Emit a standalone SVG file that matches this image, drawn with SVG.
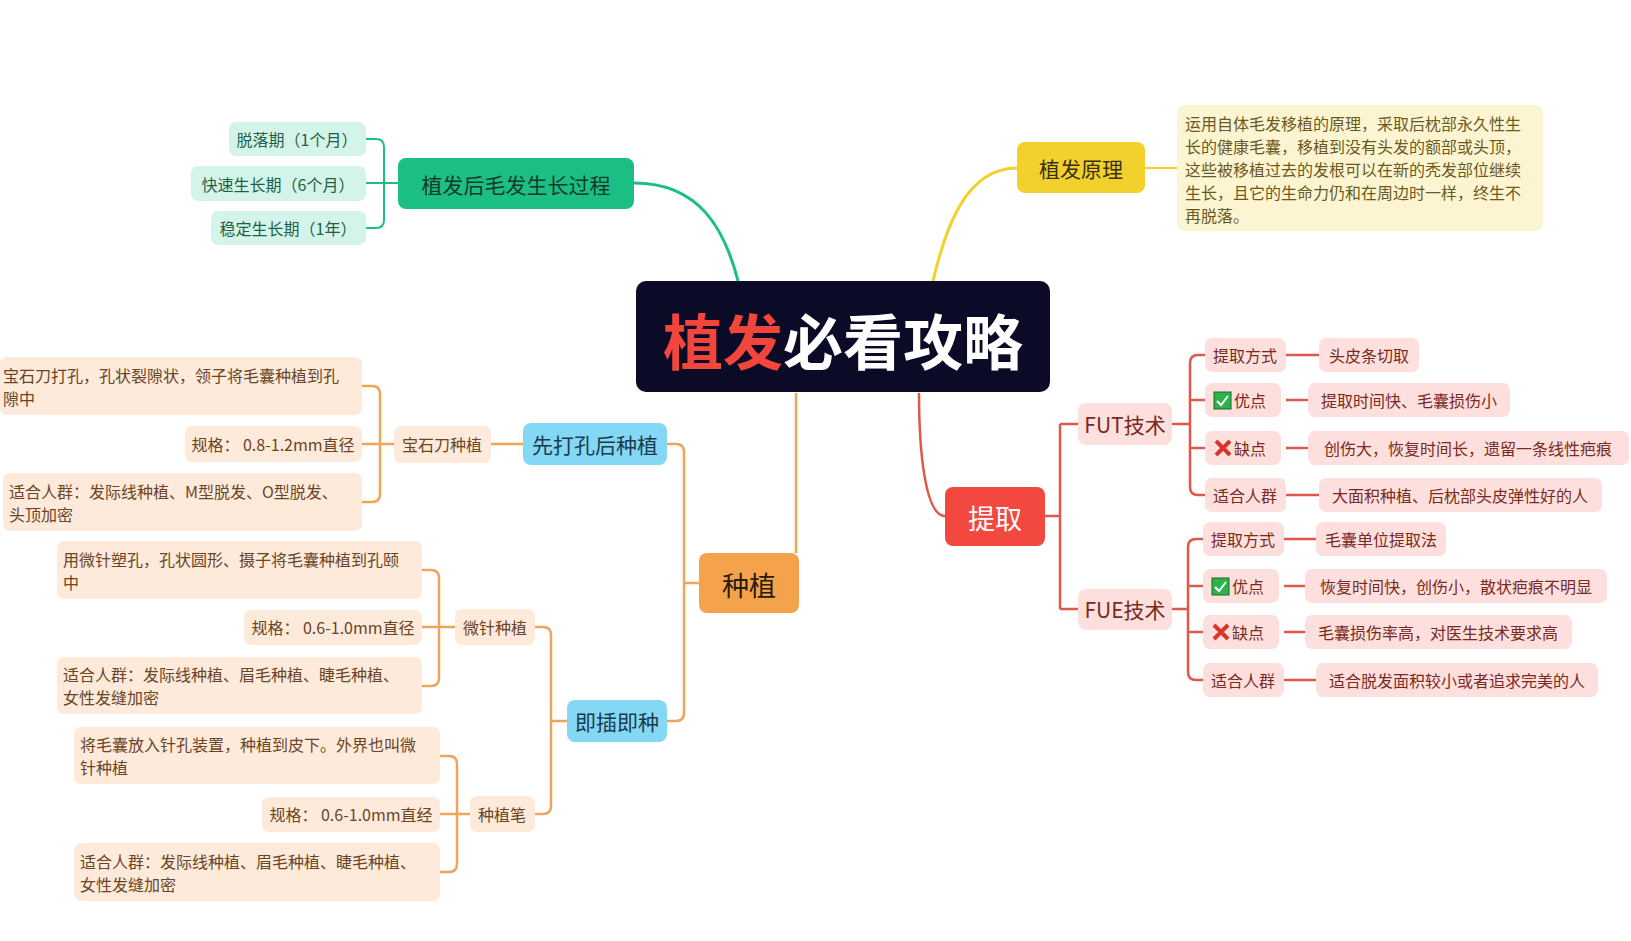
<svg xmlns="http://www.w3.org/2000/svg" width="1631" height="941" viewBox="0 0 1631 941">
<style>
text{font-family:"Noto Sans CJK SC","Noto Sans",sans-serif;dominant-baseline:central}
.lf{font-size:16px}
.g{fill:#d5f4e9}.gt{fill:#1d5f47}
.y{fill:#fdf5d2}.yt{fill:#6b5a1c}
.p{fill:#fde0dd}.pt{fill:#7a2a22}
.o{fill:#fdeadb}.ot{fill:#6b4524}
.b{fill:#84d8f5}.bt{fill:#1b3b4c}
.cg{stroke:#1bbf83;stroke-width:3;fill:none}
.cy{stroke:#f2d12d;stroke-width:3;fill:none}
.cr{stroke:#e0574c;stroke-width:2.5;fill:none}
.co{stroke:#eea55a;stroke-width:2.5;fill:none}
</style>
<rect width="1631" height="941" fill="#fff"/>
<g id="connectors">
<path class="cg" d="M738 281 C725 230 700 183 634 183"/>
<path class="cy" d="M933 281 C945 230 965 168 1017 168"/>
<path class="cr" d="M919 393 C919 450 925 516 945 516"/>
<path class="co" d="M796 393 L796 553"/>
<path class="cg" style="stroke-width:2" d="M398 183 H384 M366 139 H376 Q384 139 384 147 V220 Q384 228 376 228 H366 M366 183 H384"/>
<path class="cy" style="stroke-width:2" d="M1145 168 H1177"/>
<path class="cr" d="M1045 516 H1060 M1060 424 V609 M1060 424 H1078 M1060 609 H1078"/>
<path class="cr" d="M1172 424 H1190 M1205 355 H1198 Q1190 355 1190 363 V487 Q1190 495 1198 495 H1205 M1190 400 H1205 M1190 448 H1205 M1286 355 H1319 M1286 400 H1308 M1286 448 H1308 M1286 495 H1319"/>
<path class="cr" d="M1172 609 H1188 M1203 539 H1196 Q1188 539 1188 547 V672 Q1188 680 1196 680 H1203 M1188 586 H1203 M1188 632 H1203 M1284 539 H1316 M1284 586 H1305 M1284 632 H1305 M1284 680 H1316"/>
<path class="co" d="M699 583 H684 M667 444 H676 Q684 444 684 452 V713 Q684 721 676 721 H667"/>
<path class="co" d="M523 444 H491 M394 444 H380 M362 386 H372 Q380 386 380 394 V494 Q380 502 372 502 H362 M362 444 H380"/>
<path class="co" d="M567 721 H551 M535 627 H543 Q551 627 551 635 V806 Q551 814 543 814 H535"/>
<path class="co" d="M455 627 H439 M422 570 H431 Q439 570 439 578 V678 Q439 686 431 686 H422 M422 627 H439"/>
<path class="co" d="M470 814 H457 M440 756 H449 Q457 756 457 764 V864 Q457 872 449 872 H440 M440 814 H457"/>
</g>
<g id="center">
<rect x="636" y="281" width="414" height="111" rx="10" fill="#0b0b28"/>
<text x="843" y="338" text-anchor="middle" font-size="60" font-weight="bold"><tspan fill="#f2453c">植发</tspan><tspan fill="#fff">必看攻略</tspan></text>
</g>
<g id="n-growth">
<rect x="398" y="158" width="236" height="51" rx="8" fill="#1bbf83"/>
<text x="516" y="184" text-anchor="middle" font-size="21" fill="#153a2c">植发后毛发生长过程</text>
</g>
<g id="n-g1"><rect class="g" x="229" y="122" width="137" height="34" rx="7"/><text class="lf gt" x="297" y="139" text-anchor="middle">脱落期（1个月）</text></g>
<g id="n-g2"><rect class="g" x="191" y="166" width="175" height="35" rx="7"/><text class="lf gt" x="278" y="184" text-anchor="middle">快速生长期（6个月）</text></g>
<g id="n-g3"><rect class="g" x="211" y="211" width="155" height="34" rx="7"/><text class="lf gt" x="288" y="228" text-anchor="middle">稳定生长期（1年）</text></g>
<g id="n-principle">
<rect x="1017" y="142" width="128" height="51" rx="8" fill="#f2d12d"/>
<text x="1081" y="168" text-anchor="middle" font-size="21" fill="#3a3110">植发原理</text>
</g>
<g id="n-principle-text">
<rect class="y" x="1177" y="105" width="366" height="126" rx="7"/>
<text class="lf yt" x="1185" y="0"><tspan x="1185" y="123">运用自体毛发移植的原理，采取后枕部永久性生</tspan><tspan x="1185" y="146">长的健康毛囊，移植到没有头发的额部或头顶，</tspan><tspan x="1185" y="169">这些被移植过去的发根可以在新的秃发部位继续</tspan><tspan x="1185" y="192">生长，且它的生命力仍和在周边时一样，终生不</tspan><tspan x="1185" y="215">再脱落。</tspan></text>
</g>
<g id="n-extract">
<rect x="945" y="487" width="100" height="59" rx="8" fill="#f2483f"/>
<text x="995" y="517" text-anchor="middle" font-size="27" fill="#fff">提取</text>
</g>
<g id="n-fut"><rect class="p" x="1078" y="403" width="94" height="42" rx="8"/><text class="pt" x="1125" y="424" text-anchor="middle" font-size="21">FUT技术</text></g>
<g id="n-fue"><rect class="p" x="1078" y="589" width="94" height="41" rx="8"/><text class="pt" x="1125" y="609" text-anchor="middle" font-size="21">FUE技术</text></g>
<g id="n-fut1"><rect class="p" x="1205" y="338" width="81" height="34" rx="7"/><text class="lf pt" x="1245" y="355" text-anchor="middle">提取方式</text></g>
<g id="n-fut1v"><rect class="p" x="1319" y="338" width="100" height="34" rx="7"/><text class="lf pt" x="1369" y="355" text-anchor="middle">头皮条切取</text></g>
<g id="n-fut2"><rect class="p" x="1205" y="383" width="76" height="34" rx="7"/><rect x="1214" y="392" width="17" height="17" fill="#2db34a" stroke="#1a6a2b"/><path d="M1217 401 l4 4 l7 -9" stroke="#fff" stroke-width="2" fill="none"/><text class="lf pt" x="1234" y="400">优点</text></g>
<g id="n-fut2v"><rect class="p" x="1308" y="383" width="202" height="34" rx="7"/><text class="lf pt" x="1409" y="400" text-anchor="middle">提取时间快、毛囊损伤小</text></g>
<g id="n-fut3"><rect class="p" x="1205" y="431" width="76" height="34" rx="7"/><path d="M1216 441 l14 14 M1230 441 l-14 14" stroke="#d9362b" stroke-width="4"/><text class="lf pt" x="1234" y="448">缺点</text></g>
<g id="n-fut3v"><rect class="p" x="1308" y="431" width="321" height="34" rx="7"/><text class="lf pt" x="1468" y="448" text-anchor="middle">创伤大，恢复时间长，遗留一条线性疤痕</text></g>
<g id="n-fut4"><rect class="p" x="1205" y="478" width="81" height="34" rx="7"/><text class="lf pt" x="1245" y="495" text-anchor="middle">适合人群</text></g>
<g id="n-fut4v"><rect class="p" x="1319" y="478" width="283" height="34" rx="7"/><text class="lf pt" x="1460" y="495" text-anchor="middle">大面积种植、后枕部头皮弹性好的人</text></g>
<g id="n-fue1"><rect class="p" x="1203" y="522" width="81" height="34" rx="7"/><text class="lf pt" x="1243" y="539" text-anchor="middle">提取方式</text></g>
<g id="n-fue1v"><rect class="p" x="1316" y="522" width="130" height="34" rx="7"/><text class="lf pt" x="1381" y="539" text-anchor="middle">毛囊单位提取法</text></g>
<g id="n-fue2"><rect class="p" x="1203" y="569" width="76" height="34" rx="7"/><rect x="1212" y="578" width="17" height="17" fill="#2db34a" stroke="#1a6a2b"/><path d="M1215 587 l4 4 l7 -9" stroke="#fff" stroke-width="2" fill="none"/><text class="lf pt" x="1232" y="586">优点</text></g>
<g id="n-fue2v"><rect class="p" x="1305" y="569" width="302" height="34" rx="7"/><text class="lf pt" x="1456" y="586" text-anchor="middle">恢复时间快，创伤小，散状疤痕不明显</text></g>
<g id="n-fue3"><rect class="p" x="1203" y="615" width="76" height="34" rx="7"/><path d="M1214 625 l14 14 M1228 625 l-14 14" stroke="#d9362b" stroke-width="4"/><text class="lf pt" x="1232" y="632">缺点</text></g>
<g id="n-fue3v"><rect class="p" x="1305" y="615" width="267" height="34" rx="7"/><text class="lf pt" x="1438" y="632" text-anchor="middle">毛囊损伤率高，对医生技术要求高</text></g>
<g id="n-fue4"><rect class="p" x="1203" y="663" width="81" height="34" rx="7"/><text class="lf pt" x="1243" y="680" text-anchor="middle">适合人群</text></g>
<g id="n-fue4v"><rect class="p" x="1316" y="663" width="282" height="34" rx="7"/><text class="lf pt" x="1457" y="680" text-anchor="middle">适合脱发面积较小或者追求完美的人</text></g>
<g id="n-plant">
<rect x="699" y="553" width="100" height="60" rx="8" fill="#f4a24c"/>
<text x="749" y="584" text-anchor="middle" font-size="27" fill="#2a1a08">种植</text>
</g>
<g id="n-first"><rect class="b" x="523" y="423" width="144" height="42" rx="8"/><text class="bt" x="595" y="444" text-anchor="middle" font-size="21">先打孔后种植</text></g>
<g id="n-instant"><rect class="b" x="567" y="700" width="100" height="42" rx="8"/><text class="bt" x="617" y="721" text-anchor="middle" font-size="21">即插即种</text></g>
<g id="n-gem"><rect class="o" x="394" y="426" width="97" height="37" rx="7"/><text class="lf ot" x="442" y="444" text-anchor="middle">宝石刀种植</text></g>
<g id="n-gem1"><rect class="o" x="0" y="357" width="362" height="58" rx="7"/><text class="lf ot"><tspan x="3" y="375">宝石刀打孔，孔状裂隙状，领子将毛囊种植到孔</tspan><tspan x="3" y="398">隙中</tspan></text></g>
<g id="n-gem2"><rect class="o" x="185" y="426" width="177" height="36" rx="7"/><text class="lf ot" x="273" y="444" text-anchor="middle">规格： 0.8-1.2mm直径</text></g>
<g id="n-gem3"><rect class="o" x="3" y="473" width="359" height="58" rx="7"/><text class="lf ot"><tspan x="9" y="491">适合人群：发际线种植、M型脱发、O型脱发、</tspan><tspan x="9" y="514">头顶加密</tspan></text></g>
<g id="n-micro"><rect class="o" x="455" y="609" width="80" height="36" rx="7"/><text class="lf ot" x="495" y="627" text-anchor="middle">微针种植</text></g>
<g id="n-micro1"><rect class="o" x="57" y="541" width="365" height="58" rx="7"/><text class="lf ot"><tspan x="63" y="559">用微针塑孔，孔状圆形、摄子将毛囊种植到孔颐</tspan><tspan x="63" y="582">中</tspan></text></g>
<g id="n-micro2"><rect class="o" x="244" y="610" width="178" height="35" rx="7"/><text class="lf ot" x="333" y="627" text-anchor="middle">规格： 0.6-1.0mm直径</text></g>
<g id="n-micro3"><rect class="o" x="57" y="657" width="365" height="57" rx="7"/><text class="lf ot"><tspan x="63" y="674">适合人群：发际线种植、眉毛种植、睫毛种植、</tspan><tspan x="63" y="697">女性发缝加密</tspan></text></g>
<g id="n-pen"><rect class="o" x="470" y="796" width="65" height="36" rx="7"/><text class="lf ot" x="502" y="814" text-anchor="middle">种植笔</text></g>
<g id="n-pen1"><rect class="o" x="74" y="727" width="366" height="57" rx="7"/><text class="lf ot"><tspan x="80" y="744">将毛囊放入针孔装置，种植到皮下。外界也叫微</tspan><tspan x="80" y="767">针种植</tspan></text></g>
<g id="n-pen2"><rect class="o" x="262" y="797" width="178" height="35" rx="7"/><text class="lf ot" x="351" y="814" text-anchor="middle">规格： 0.6-1.0mm直经</text></g>
<g id="n-pen3"><rect class="o" x="74" y="843" width="366" height="58" rx="7"/><text class="lf ot"><tspan x="80" y="861">适合人群：发际线种植、眉毛种植、睫毛种植、</tspan><tspan x="80" y="884">女性发缝加密</tspan></text></g>
</svg>
